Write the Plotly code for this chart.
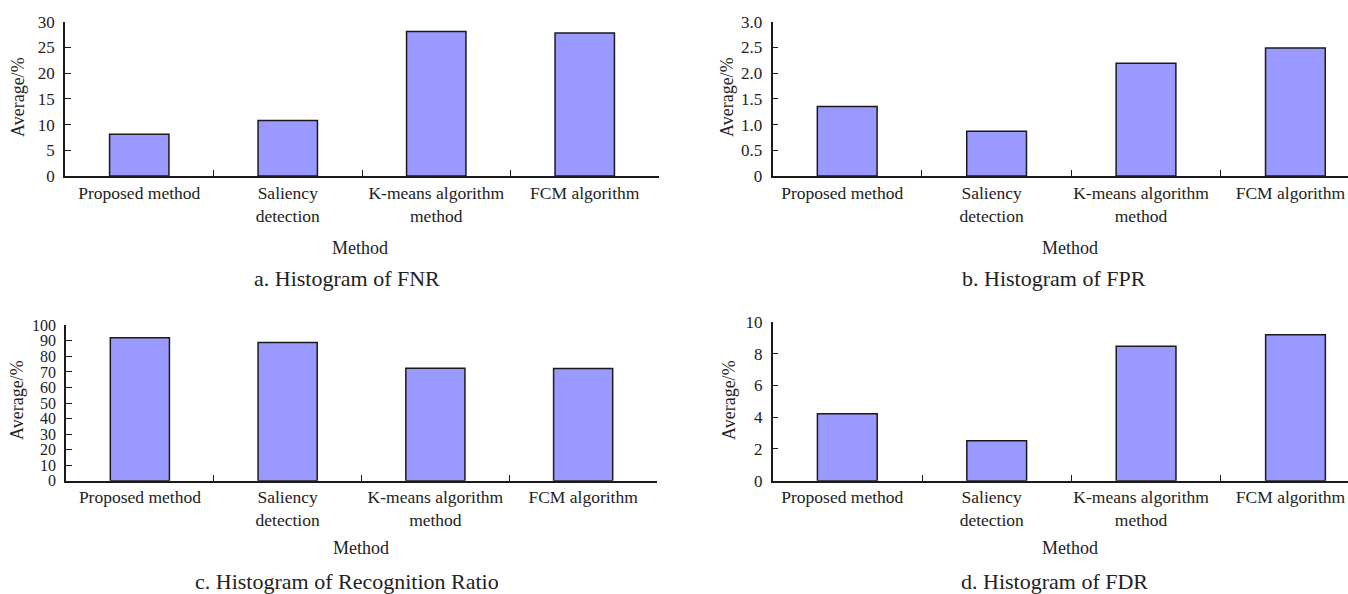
import plotly.graph_objects as go

W, H = 1348, 594

categories = ["Proposed method", "Saliency<br>detection", "K-means algorithm<br>method", "FCM algorithm"]
fnr = [8.1, 10.8, 28.1, 27.8]
fpr = [1.35, 0.87, 2.19, 2.49]
recognition = [92.0, 89.0, 72.3, 72.2]
fdr = [4.22, 2.52, 8.47, 9.2]

yticks_a = [0, 5, 10, 15, 20, 25, 30]
yticks_b = [0, 0.5, 1.0, 1.5, 2.0, 2.5, 3.0]
ytext_b = ["0", "0.5", "1.0", "1.5", "2.0", "2.5", "3.0"]
yticks_c = list(range(0, 101, 10))
yticks_d = [0, 2, 4, 6, 8, 10]

subtitles = ["a. Histogram of FNR", "b. Histogram of FPR",
             "c. Histogram of Recognition Ratio", "d. Histogram of FDR"]
xtitle = "Method"
ytitle = "Average/%"

FONT = "Liberation Serif"
TXT = "#222222"
BAR = "#9999ff"
LINE = "#1a1a1a"

def px_x(v):
    return v / W

def px_y(v):
    return 1 - v / H

panels = [
    dict(data=fnr, x0=65, x1=659, yb=176, yt=21.7, xr=[-0.5, 3.5], yr=[0, 30],
         tv=yticks_a, tt=[str(v) for v in yticks_a], yfs=17, shift=0),
    dict(data=fpr, x0=772.5, x1=1348, yb=176, yt=21.7, xr=[-0.5, (1348 - 772.5) / 149.4 - 0.5], yr=[0, 3],
         tv=yticks_b, tt=ytext_b, yfs=17, shift=-5),
    dict(data=recognition, x0=66, x1=657, yb=480.7, yt=325.3, xr=[-0.5, 3.5], yr=[0, 100],
         tv=yticks_c, tt=[str(v) for v in yticks_c], yfs=16, shift=0),
    dict(data=fdr, x0=772.6, x1=1348, yb=480.7, yt=322, xr=[-0.5, (1348 - 772.6) / 149.4 - 0.5], yr=[0, 10],
         tv=yticks_d, tt=[str(v) for v in yticks_d], yfs=17, shift=-5),
]

fig = go.Figure()
layout = dict(template="none", width=W, height=H, margin=dict(l=0, r=0, t=0, b=0, pad=0),
              autosize=False, paper_bgcolor="white", plot_bgcolor="white", showlegend=False,
              font=dict(family=FONT, size=18, color=TXT), bargap=0.6)

annotations = []
title_pos = [  # method (x,y), ytitle (x,y), subtitle (x,y)
    ((360, 248), (18, 97), (347, 278)),
    ((1070, 248), (727, 97), (1054, 278)),
    ((361, 548), (17, 400), (347, 581)),
    ((1070, 548), (729, 400), (1054, 581)),
]

for i, p in enumerate(panels):
    n = "" if i == 0 else str(i + 1)
    fig.add_trace(go.Bar(x=categories, y=p["data"], xaxis="x" + n, yaxis="y" + n,
                         marker=dict(color=BAR, line=dict(color=LINE, width=1.5)),
                         width=0.4, hoverinfo="x+y"))
    layout["xaxis" + n] = dict(domain=[px_x(p["x0"]), px_x(p["x1"])], anchor="y" + n,
                               range=p["xr"], type="category", showline=True, linecolor=LINE,
                               linewidth=1.5, ticks="inside", tickson="boundaries", ticklen=6,
                               tickwidth=1.2, tickcolor=LINE, showgrid=False, zeroline=False,
                               automargin=False, tickangle=0, ticklabelshift=p["shift"],
                               ticklabelstandoff=0, tickfont=dict(family=FONT, size=17.5, color=TXT))
    layout["yaxis" + n] = dict(domain=[px_y(p["yb"]), px_y(p["yt"])], anchor="x" + n,
                               range=p["yr"], showline=True, linecolor=LINE, linewidth=1.5,
                               ticks="inside", ticklen=6, tickwidth=1.2, tickcolor=LINE,
                               tickvals=p["tv"], ticktext=p["tt"], showgrid=False, zeroline=False,
                               automargin=False,
                               ticklabelstandoff=5, tickfont=dict(family=FONT, size=p["yfs"], color=TXT))
    (mx, my), (yx, yy), (sx, sy) = title_pos[i]
    annotations.append(dict(text=xtitle, x=px_x(mx), y=px_y(my), xref="paper", yref="paper",
                            showarrow=False, xanchor="center", yanchor="middle",
                            font=dict(family=FONT, size=18, color=TXT)))
    annotations.append(dict(text=ytitle, x=px_x(yx), y=px_y(yy), xref="paper", yref="paper",
                            showarrow=False, xanchor="center", yanchor="middle", textangle=-90,
                            font=dict(family=FONT, size=18, color=TXT)))
    annotations.append(dict(text=subtitles[i], x=px_x(sx), y=px_y(sy), xref="paper", yref="paper",
                            showarrow=False, xanchor="center", yanchor="middle",
                            font=dict(family=FONT, size=22, color=TXT)))

layout["annotations"] = annotations
fig.update_layout(**layout)
fig.write_html("out.html", config={"displayModeBar": False},
               post_script="document.body.style.margin='0';document.body.style.padding='0';"
                           "document.body.style.overflow='hidden';")
